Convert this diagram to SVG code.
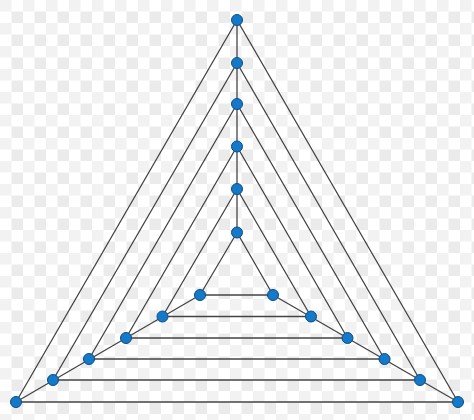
<svg xmlns="http://www.w3.org/2000/svg" width="474" height="420" viewBox="0 0 474 420">
<style>
.e{stroke:#444;stroke-width:1.3;fill:none}
.n{fill:#1479c9;stroke:#0b4d85;stroke-width:1}
</style>
<defs>
<pattern id="chk" x="0" y="0" width="23" height="23" patternUnits="userSpaceOnUse">
<rect width="23" height="23" fill="#ffffff"/>
<rect x="0" y="0" width="11.5" height="11.5" fill="#f2f2f2"/>
<rect x="11.5" y="11.5" width="11.5" height="11.5" fill="#ebebeb"/>
</pattern>
</defs>
<rect width="474" height="420" fill="url(#chk)"/>
<g id="connectors">
<polygon class="e" points="237,20 16,402 458,402"/>
<polygon class="e" points="237,63 53,380 420,380"/>
<polygon class="e" points="237,104 89,359 384.5,359"/>
<polygon class="e" points="237,146.5 126,338 347.5,338"/>
<polygon class="e" points="237,189 162.5,316.5 311,316.5"/>
<polygon class="e" points="237,232.5 200,295 273,295"/>
<line class="e" x1="237" y1="20" x2="237" y2="232.5"/>
<line class="e" x1="16" y1="402" x2="200" y2="295"/>
<line class="e" x1="458" y1="402" x2="273" y2="295"/>
</g>
<g id="t1"><circle class="n" cx="237" cy="20" r="5.5"/></g>
<g id="t2"><circle class="n" cx="237" cy="63" r="5.5"/></g>
<g id="t3"><circle class="n" cx="237" cy="104" r="5.5"/></g>
<g id="t4"><circle class="n" cx="237" cy="146.5" r="5.5"/></g>
<g id="t5"><circle class="n" cx="237" cy="189" r="5.5"/></g>
<g id="t6"><circle class="n" cx="237" cy="232.5" r="5.5"/></g>
<g id="l1"><circle class="n" cx="16" cy="402" r="5.5"/></g>
<g id="l2"><circle class="n" cx="53" cy="380" r="5.5"/></g>
<g id="l3"><circle class="n" cx="89" cy="359" r="5.5"/></g>
<g id="l4"><circle class="n" cx="126" cy="338" r="5.5"/></g>
<g id="l5"><circle class="n" cx="162.5" cy="316.5" r="5.5"/></g>
<g id="l6"><circle class="n" cx="200" cy="295" r="5.5"/></g>
<g id="r1"><circle class="n" cx="458" cy="402" r="5.5"/></g>
<g id="r2"><circle class="n" cx="420" cy="380" r="5.5"/></g>
<g id="r3"><circle class="n" cx="384.5" cy="359" r="5.5"/></g>
<g id="r4"><circle class="n" cx="347.5" cy="338" r="5.5"/></g>
<g id="r5"><circle class="n" cx="311" cy="316.5" r="5.5"/></g>
<g id="r6"><circle class="n" cx="273" cy="295" r="5.5"/></g>
</svg>
